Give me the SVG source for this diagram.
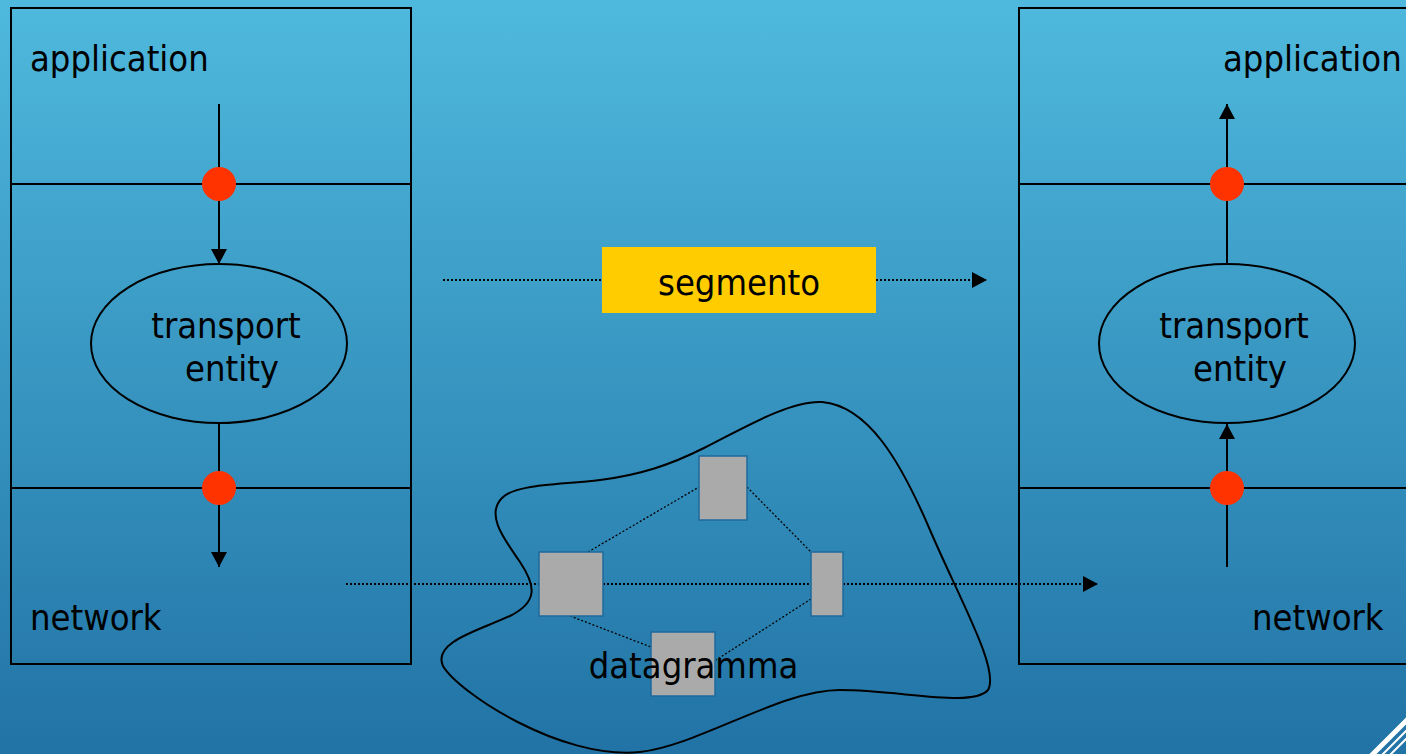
<svg xmlns="http://www.w3.org/2000/svg" width="1406" height="754" viewBox="0 0 1406 754">
<defs>
<linearGradient id="bg" x1="0" y1="0" x2="0" y2="1">
<stop offset="0" stop-color="#4FB9DD"/>
<stop offset="1" stop-color="#2173A5"/>
</linearGradient>
<marker id="arr" markerUnits="userSpaceOnUse" markerWidth="16" markerHeight="16" refX="15" refY="8" orient="auto" viewBox="0 0 16 16">
<path d="M0,0 L15,8 L0,16 Z" fill="#000"/>
</marker>
<style>
.t{font-family:"DejaVu Sans Condensed","DejaVu Sans",sans-serif;font-size:36px;fill:#000}
.box{fill:none;stroke:#000;stroke-width:2}
.ln{stroke:#000;stroke-width:2;fill:none}
.dot{fill:#FF3300}
.dl{stroke:#000;stroke-width:2.2;stroke-dasharray:2 2;fill:none}
.dt{stroke:#000;stroke-width:1.3;stroke-dasharray:2 2;fill:none}
.rt{fill:#AAAAAA;stroke:#1E6A9C;stroke-width:1.5}
</style>
</defs>
<rect width="1406" height="754" fill="url(#bg)"/>
<g id="corner" stroke="#fff" fill="none">
<line x1="1371" y1="756" x2="1408" y2="719" stroke-width="5"/>
<line x1="1381" y1="756" x2="1408" y2="729" stroke-width="2"/>
<line x1="1389" y1="756" x2="1408" y2="737" stroke-width="2"/>
</g>
<g id="left-host">
<rect class="box" x="11" y="8" width="400" height="656"/>
<line class="ln" x1="11" y1="184" x2="411" y2="184"/>
<line class="ln" x1="11" y1="488" x2="411" y2="488"/>
<text class="t" x="30" y="71">application</text>
<text class="t" x="30" y="630">network</text>
</g>
<g id="right-host">
<rect class="box" x="1019" y="8" width="400" height="656"/>
<line class="ln" x1="1019" y1="184" x2="1406" y2="184"/>
<line class="ln" x1="1019" y1="488" x2="1406" y2="488"/>
<text class="t" x="1223" y="71">application</text>
<text class="t" x="1252" y="630">network</text>
</g>
<g id="connectors">
<line class="ln" x1="219" y1="104" x2="219" y2="264" marker-end="url(#arr)"/>
<line class="ln" x1="219" y1="423" x2="219" y2="567" marker-end="url(#arr)"/>
<line class="ln" x1="1227" y1="264" x2="1227" y2="104" marker-end="url(#arr)"/>
<line class="ln" x1="1227" y1="567" x2="1227" y2="424" marker-end="url(#arr)"/>
<line class="dl" x1="443" y1="280" x2="602" y2="280"/>
<line class="dl" x1="876" y1="280" x2="987" y2="280" marker-end="url(#arr)"/>
<line class="dl" x1="346" y1="584" x2="539" y2="584"/>
<line class="dl" x1="603" y1="584" x2="811" y2="584"/>
<line class="dl" x1="843" y1="584" x2="1098" y2="584" marker-end="url(#arr)"/>
<line class="dt" x1="588" y1="552" x2="699" y2="487"/>
<line class="dt" x1="747" y1="487" x2="811" y2="552"/>
<line class="dt" x1="570" y1="616" x2="651" y2="647"/>
<line class="dt" x1="811" y1="599" x2="716" y2="660"/>
</g>
<g id="left-sap-top"><circle class="dot" cx="219" cy="184" r="17"/></g>
<g id="left-sap-bottom"><circle class="dot" cx="219" cy="488" r="17"/></g>
<g id="right-sap-top"><circle class="dot" cx="1227" cy="184" r="17"/></g>
<g id="right-sap-bottom"><circle class="dot" cx="1227" cy="488" r="17"/></g>
<g id="left-transport">
<ellipse cx="219" cy="343.5" rx="128" ry="79.5" fill="none" stroke="#000" stroke-width="2"/>
<text class="t" x="226" y="338" text-anchor="middle">transport</text>
<text class="t" x="232" y="381" text-anchor="middle">entity</text>
</g>
<g id="right-transport">
<ellipse cx="1227" cy="343.5" rx="128" ry="79.5" fill="none" stroke="#000" stroke-width="2"/>
<text class="t" x="1234" y="338" text-anchor="middle">transport</text>
<text class="t" x="1240" y="381" text-anchor="middle">entity</text>
</g>
<g id="segmento">
<rect x="602" y="247" width="274" height="66" fill="#FFCC00"/>
<text class="t" x="739" y="295" text-anchor="middle">segmento</text>
</g>
<g id="network-cloud">
<path d="M822,402 C790,400 740,430 704,448 C670,465 640,475 600,480 C560,485 515,484 502,498 C485,515 505,540 520,562 C536,586 538,602 510,616 C480,630 432,642 443,666 C458,692 560,760 640,752 C700,745 780,690 840,690 C900,690 972,708 988,690 C1000,670 960,600 930,530 C900,460 868,406 822,402 Z" fill="none" stroke="#000" stroke-width="2"/>
</g>
<g id="router-left"><rect class="rt" x="539" y="552" width="64" height="64"/></g>
<g id="router-top"><rect class="rt" x="699" y="456" width="48" height="64"/></g>
<g id="router-right"><rect class="rt" x="811" y="552" width="32" height="64"/></g>
<g id="router-bottom"><rect class="rt" x="651" y="632" width="64" height="64"/></g>
<g id="datagramma"><text class="t" x="693.5" y="678" text-anchor="middle">datagramma</text></g>
</svg>
